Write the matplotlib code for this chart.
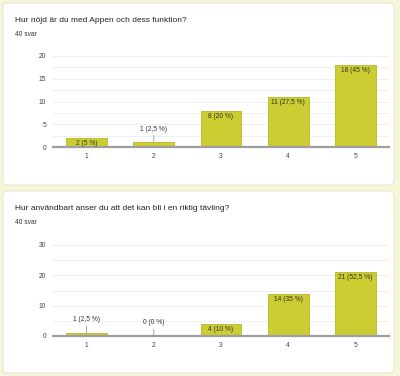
import matplotlib.pyplot as plt
from matplotlib.patches import FancyBboxPatch
import numpy as np

plt.rcParams['font.family'] = ['Liberation Sans', 'DejaVu Sans']

categories = ['1', '2', '3', '4', '5']
title1 = 'Hur nöjd är du med Appen och dess funktion?'
counts1 = [2, 1, 8, 11, 18]
labels1 = ['2 (5 %)', '1 (2,5 %)', '8 (20 %)', '11 (27,5 %)', '18 (45 %)']
title2 = 'Hur användbart anser du att det kan bli i en riktig tävling?'
counts2 = [1, 0, 4, 14, 21]
labels2 = ['1 (2,5 %)', '0 (0 %)', '4 (10 %)', '14 (35 %)', '21 (52,5 %)']
answers = '40 svar'

W, H = 400, 376
bar_color = '#cccc33'
edge_color = '#b8b82a'

fig = plt.figure(figsize=(W / 100, H / 100), dpi=100)
fig.patch.set_facecolor('#f6f4d9')


def px(x0, y0, x1, y1):
    # pixel box (top-left origin) -> figure fraction rect
    return [x0 / W, 1 - y1 / H, (x1 - x0) / W, (y1 - y0) / H]


def card(y0, y1):
    box = FancyBboxPatch((3 / W, 1 - y1 / H), 391 / W, (y1 - y0) / H,
                         boxstyle='round,pad=0,rounding_size=0.012',
                         transform=fig.transFigure, facecolor='white',
                         edgecolor='#e4e2c8', linewidth=0.6, zorder=-5)
    fig.patches.append(box)


def chart(y_top, y_bot, card_top, title, counts, labels, ymax, minor, major):
    fig.text(15 / W, 1 - (card_top + 17) / H, title, fontsize=6.0,
             color='#222222', va='center')
    fig.text(15 / W, 1 - (card_top + 31) / H, answers, fontsize=4.8,
             color='#333333', va='center')
    ax = fig.add_axes(px(53, y_top, 389, y_bot))
    x = np.arange(len(categories))
    ax.bar(x, counts, width=0.61, color=bar_color, edgecolor=edge_color,
           linewidth=0.6, zorder=3)
    ax.set_xlim(-0.5, len(categories) - 0.5)
    ax.set_ylim(0, ymax)
    for g in np.arange(minor, ymax + 0.01, minor):
        ax.axhline(g, color='#ececec', linewidth=0.6, zorder=1)
    ax.set_yticks(np.arange(0, ymax + 0.01, major))
    ax.set_xticks(x)
    ax.set_xticklabels(categories)
    ax.tick_params(axis='x', length=0, labelsize=4.8, colors='#444444', pad=4)
    ax.tick_params(axis='y', length=0, labelsize=4.8, colors='#444444', pad=5)
    for s in ['top', 'left', 'right']:
        ax.spines[s].set_visible(False)
    ax.spines['bottom'].set_color('#9e9e9e')
    ax.spines['bottom'].set_linewidth(1.6)
    ax.spines['bottom'].set_zorder(4)
    ax.set_facecolor('none')
    for xi, v, lab in zip(x, counts, labels):
        if v / ymax < 0.08:
            ax.annotate(lab, xy=(xi, v), xytext=(0, 7), textcoords='offset points',
                        ha='center', va='bottom', fontsize=4.8, color='#333333',
                        arrowprops=dict(arrowstyle='-', color='#999999', lw=0.6,
                                        shrinkA=0, shrinkB=0), zorder=5)
        else:
            ax.annotate(lab, xy=(xi, v), xytext=(0, -1.5), textcoords='offset points',
                        ha='center', va='top', fontsize=4.8, color='#333333', zorder=5)


card(3, 185)
card(191, 373)
chart(56, 147, 3, title1, counts1, labels1, 20, 2.5, 5)
chart(245, 336, 191, title2, counts2, labels2, 30, 5, 10)

fig.savefig('out.png', dpi=100, facecolor=fig.get_facecolor())
